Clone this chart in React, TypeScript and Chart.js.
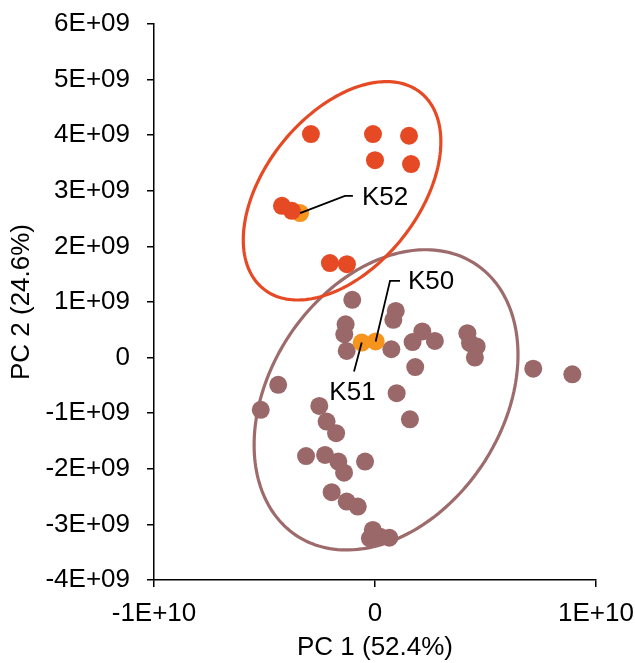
import React, { useEffect, useRef } from 'react';
import { Chart, registerables } from 'chart.js';

Chart.register(...registerables);

const E9 = 1e9;

// Brown group (values in units of 1E+09)
const brownX = [-1.03, 0.94, 0.83, -1.33, -1.39, -1.28, 0.74, 1.70, 2.14, 2.71, 4.18, 4.30, 4.60, 4.52, 1.82, 0.98, -4.38, -5.17, 7.16, 8.93, -2.52, -2.19, -1.76, -3.12, -2.26, -1.66, -1.40, -0.45, -1.96, -1.28, -0.78, -0.10, -0.23, 0.23, 0.65, 1.58];
const brownY = [1.04, 0.84, 0.68, 0.60, 0.42, 0.12, 0.15, 0.28, 0.47, 0.30, 0.44, 0.26, 0.20, 0.00, -0.17, -0.64, -0.49, -0.94, -0.20, -0.30, -0.87, -1.15, -1.36, -1.77, -1.75, -1.87, -2.07, -1.87, -2.42, -2.59, -2.68, -3.10, -3.25, -3.22, -3.24, -1.11];

// Red group
const redX = [-2.90, -0.09, 1.54, 0.00, 1.63, -4.21, -3.76, -2.04, -1.27];
const redY = [4.02, 4.02, 3.99, 3.55, 3.48, 2.73, 2.64, 1.70, 1.68];

// Orange (labelled) samples
const orangeNames = ['K52', 'K50', 'K51'];
const orangeX = [-3.39, 0.03, -0.60];
const orangeY = [2.60, 0.29, 0.27];

// Label leader paths (data units, 1E+09) and text anchors
const labelPathX = [[-1.36, -1.0], [0.68, 1.13], [-0.95]];
const labelPathY = [[2.91, 2.91], [1.38, 1.38], [-0.25]];
const labelTextX = [-0.59, 1.49, -1.02];
const labelTextY = [2.88, 1.37, -0.63];
const labelAlign = ['left', 'left', 'center'];

// Ellipses: centre, half extents, correlation (data units, 1E+09)
const ellipseCX = [0.50, -1.49];
const ellipseCY = [-0.76, 3.0];
const ellipseHX = [5.97, 4.47];
const ellipseHY = [2.70, 1.964];
const ellipseRho = [0.30, 0.449];
const ellipseColor = ['#9d6b6b', '#e64a25'];

const xTickLabels = ['-1E+10', '0', '1E+10'];
const yTickLabels = ['-4E+09', '-3E+09', '-2E+09', '-1E+09', '0', '1E+09', '2E+09', '3E+09', '4E+09', '5E+09', '6E+09'];

const FONT = 'Liberation Sans, Arial, sans-serif';

const ellipsePlugin = {
  id: 'ellipses',
  beforeDatasetsDraw(chart: any) {
    const { ctx, scales } = chart;
    const xs = scales.x, ys = scales.y;
    ctx.save();
    for (let i = 0; i < ellipseCX.length; i++) {
      const s = Math.sqrt(1 - ellipseRho[i] * ellipseRho[i]);
      ctx.beginPath();
      const N = 200;
      for (let k = 0; k <= N; k++) {
        const t = (k / N) * Math.PI * 2;
        const dx = ellipseCX[i] + ellipseHX[i] * Math.cos(t);
        const dy = ellipseCY[i] + ellipseHY[i] * (ellipseRho[i] * Math.cos(t) + s * Math.sin(t));
        const px = xs.getPixelForValue(dx * E9);
        const py = ys.getPixelForValue(dy * E9);
        if (k === 0) ctx.moveTo(px, py); else ctx.lineTo(px, py);
      }
      ctx.closePath();
      ctx.strokeStyle = ellipseColor[i];
      ctx.lineWidth = 3.2;
      ctx.stroke();
    }
    ctx.restore();
  },
};

const labelPlugin = {
  id: 'labels',
  afterDatasetsDraw(chart: any) {
    const { ctx, scales } = chart;
    const xs = scales.x, ys = scales.y;
    ctx.save();
    for (let i = 0; i < orangeNames.length; i++) {
      ctx.beginPath();
      ctx.moveTo(xs.getPixelForValue(orangeX[i] * E9), ys.getPixelForValue(orangeY[i] * E9));
      for (let k = 0; k < labelPathX[i].length; k++) {
        ctx.lineTo(xs.getPixelForValue(labelPathX[i][k] * E9), ys.getPixelForValue(labelPathY[i][k] * E9));
      }
      ctx.strokeStyle = '#000';
      ctx.lineWidth = 1.8;
      ctx.stroke();
      ctx.fillStyle = '#000';
      ctx.font = `26px ${FONT}`;
      ctx.textAlign = labelAlign[i] as CanvasTextAlign;
      ctx.textBaseline = 'middle';
      ctx.fillText(orangeNames[i], xs.getPixelForValue(labelTextX[i] * E9), ys.getPixelForValue(labelTextY[i] * E9));
    }
    ctx.restore();
  },
};

export default function App() {
  const ref = useRef<HTMLCanvasElement>(null);
  useEffect(() => {
    if (!ref.current) return;
    const toPts = (xa: number[], ya: number[]) => xa.map((x, i) => ({ x: x * E9, y: ya[i] * E9 }));
    const tickFont = { family: FONT, size: 26 };
    const zeroPad = (s: any) => { s.paddingTop = 0; s.paddingBottom = 0; s.paddingLeft = 0; s.paddingRight = 0; };
    const chart = new Chart(ref.current, {
      type: 'scatter',
      data: {
        datasets: [
          { label: 'red', data: toPts(redX, redY), backgroundColor: '#e64a25', borderWidth: 0, pointRadius: 9, pointHoverRadius: 9 },
          { label: 'orange', data: toPts(orangeX, orangeY), backgroundColor: '#f7941d', borderWidth: 0, pointRadius: 9, pointHoverRadius: 9 },
          { label: 'brown', data: toPts(brownX, brownY), backgroundColor: '#9a6868', borderWidth: 0, pointRadius: 9, pointHoverRadius: 9 },
        ],
      },
      options: {
        animation: false,
        responsive: false,
        layout: { padding: { top: 24, right: 39, bottom: 0, left: 0 } },
        plugins: { legend: { display: false }, tooltip: { enabled: false } },
        events: [],
        scales: {
          x: {
            type: 'linear',
            position: 'bottom',
            min: -1e10,
            max: 1e10,
            ticks: { stepSize: 1e10, callback: (_v: any, i: number) => xTickLabels[i], font: tickFont, color: '#000', padding: 11 },
            grid: { drawOnChartArea: false, drawTicks: true, tickLength: 7, color: '#000', lineWidth: 1.5 },
            border: { display: true, color: '#000', width: 1.5 },
            title: { display: true, text: 'PC 1 (52.4%)', font: tickFont, color: '#000', padding: { top: 0, bottom: 0 } },
            afterFit: (s: any) => { s.height = 83; zeroPad(s); },
          },
          y: {
            type: 'linear',
            position: 'left',
            min: -4e9,
            max: 6e9,
            ticks: { stepSize: 1e9, callback: (_v: any, i: number) => yTickLabels[i], font: tickFont, color: '#000', padding: 17 },
            grid: { drawOnChartArea: false, drawTicks: true, tickLength: 7, color: '#000', lineWidth: 1.5 },
            border: { display: true, color: '#000', width: 1.5 },
            title: { display: true, text: 'PC 2 (24.6%)', font: tickFont, color: '#000', padding: { top: 6, bottom: 0 } },
            afterFit: (s: any) => { s.width = 154; zeroPad(s); },
          },
        },
      },
      plugins: [ellipsePlugin, labelPlugin],
    } as any);
    return () => chart.destroy();
  }, []);
  return (
    <div style={{ position: 'fixed', left: 0, top: 0, width: 635, height: 663, background: '#fff' }}>
      <canvas ref={ref} width={635} height={663} style={{ display: 'block' }} />
    </div>
  );
}
